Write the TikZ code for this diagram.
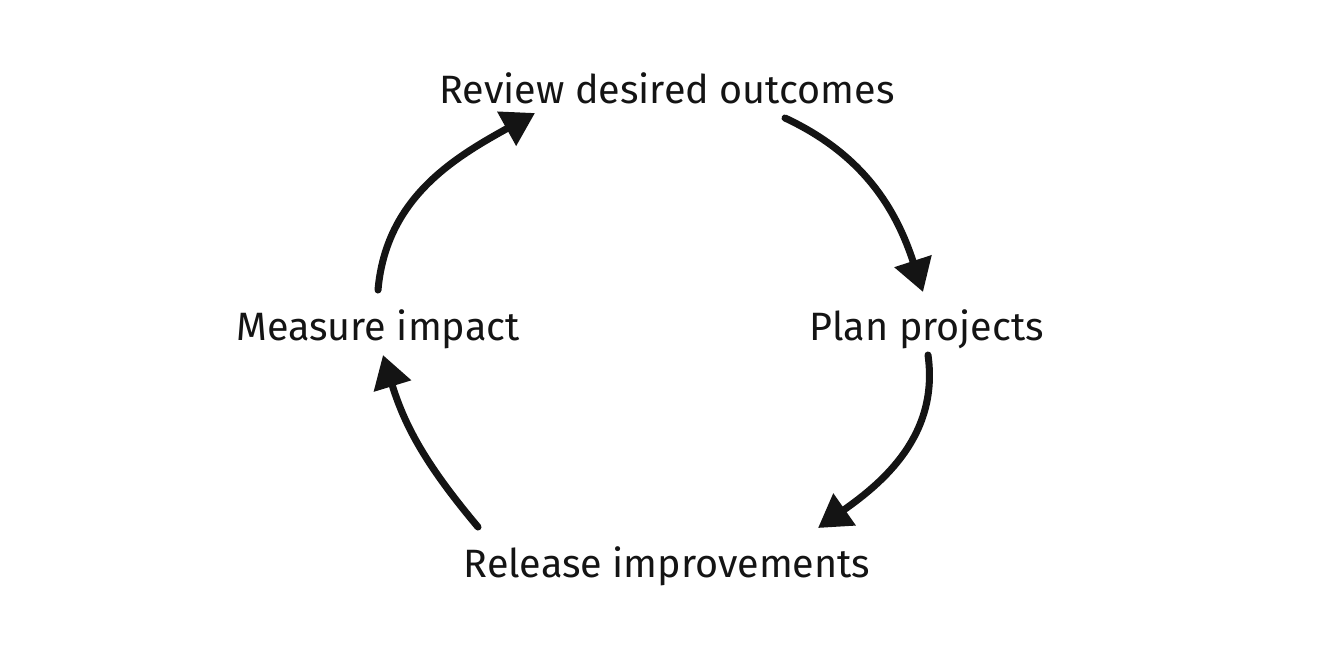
\documentclass[tikz,border=0pt]{standalone}
\usepackage{fontspec}
\setmainfont{Fira Sans}
\usepackage{tikz}
\usetikzlibrary{
  arrows.meta,
  positioning,
  calc
}
\definecolor{labelcolor}{RGB}{20, 20, 20}
\definecolor{arrowcolor}{RGB}{20, 20, 20}
\tikzset{
steplabel/.style={
  anchor=base,
  align=center,
  font=\fontsize{22.5}{26}\selectfont,
  text=labelcolor,
  inner sep=0pt
},
cyclearrow/.style={
  -{Triangle[length=6.5mm,width=7.5mm]},
  line width=4pt,
  line cap=round,
  draw=arrowcolor
}
}

\begin{document}
\begin{tikzpicture}
        \useasboundingbox (0,0) rectangle (26.7,-12.92);

        % the four steps
        \node[steplabel] (review)  at (13.34, -2.06)  {Review desired outcomes};
        \node[steplabel] (plan)    at (18.54, -6.80)  {Plan projects};
        \node[steplabel] (release) at (13.34, -11.54) {Release improvements};
        \node[steplabel] (measure) at (7.56, -6.80)   {Measure impact};

        % cycle arrows
        \draw[cyclearrow] ([shift={(2.36,-0.30)}]review.base) to[out=-25, in=108] ([shift={(-0.08,0.96)}]plan.base);
        \draw[cyclearrow] ([shift={(0.02,-0.30)}]plan.base) to[out=-82, in=35] ([shift={(3.02,0.98)}]release.base);
        \draw[cyclearrow] ([shift={(-3.78,1.00)}]release.base) to[out=130, in=-73] ([shift={(0.10,-0.30)}]measure.base);
        \draw[cyclearrow] ([shift={(0,1.00)}]measure.base) to[out=85, in=-151] ([shift={(-2.64,-0.20)}]review.base);
      \end{tikzpicture}
\end{document}
